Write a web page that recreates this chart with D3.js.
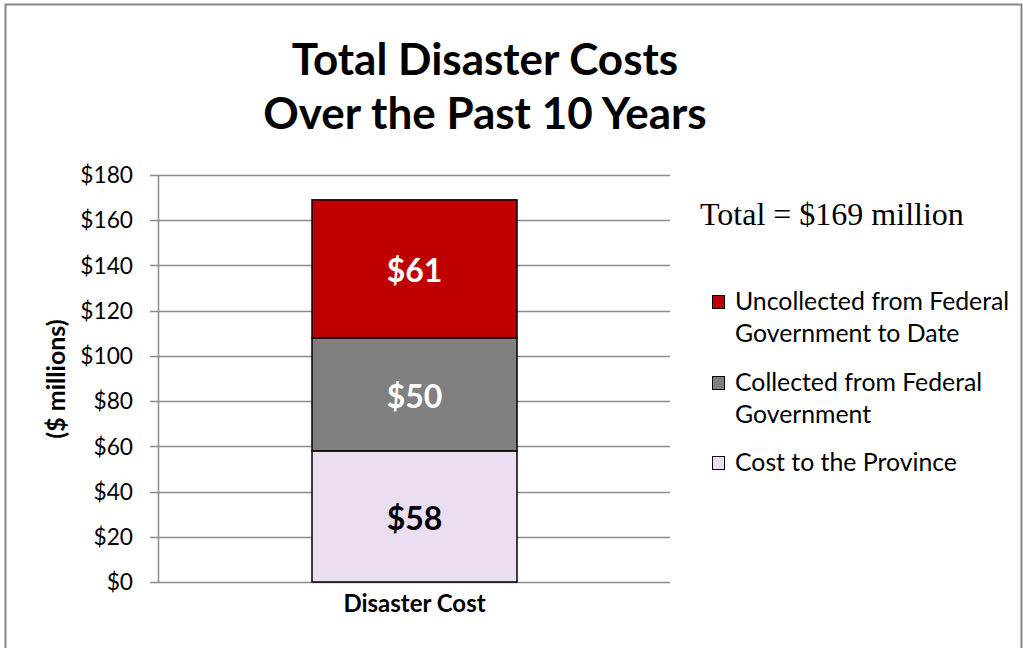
<!DOCTYPE html>
<html>
<head>
<meta charset="utf-8">
<script src="https://cdn.jsdelivr.net/npm/d3@7"></script>
<style>
  html, body { margin: 0; padding: 0; background: #fff; }
  svg { display: block; }
  text { font-family: Lato, "Open Sans", sans-serif; }
</style>
</head>
<body>
<div id="chart"></div>
<script>
// Stacked cost components, bottom to top
const category = "Disaster Cost";
const seriesNames = [
  "Cost to the Province",
  "Collected from Federal Government",
  "Uncollected from Federal Government to Date"
];
const seriesValues = [58, 50, 61];
const seriesColors = ["#ebdef0", "#808080", "#c00000"];
const labelColors = ["#000000", "#ffffff", "#ffffff"];
const yTicks = [0, 20, 40, 60, 80, 100, 120, 140, 160, 180];
const legendLines = [
  ["Uncollected from Federal", "Government to Date"],
  ["Collected from Federal", "Government"],
  ["Cost to the Province"]
];
const totalLabel = "Total = $169 million";

const W = 1023, H = 648;
const svg = d3.select("#chart").append("svg").attr("width", W).attr("height", H);

// outer frame
svg.append("rect")
  .attr("x", 5.5).attr("y", 4.5).attr("width", 1016).attr("height", 660)
  .attr("fill", "#fff").attr("stroke", "#868686").attr("stroke-width", 2);

// plot area
const plot = { left: 158, right: 670, top: 175, bottom: 582 };

const y = d3.scaleLinear().domain([0, 180]).range([plot.bottom, plot.top]);

// gridlines
svg.append("g")
  .selectAll("line").data(yTicks).join("line")
  .attr("x1", plot.left - 8).attr("x2", plot.right)
  .attr("y1", d => Math.round(y(d)) + 0.5).attr("y2", d => Math.round(y(d)) + 0.5)
  .attr("stroke", "#8c8c8c").attr("stroke-width", 1.5);

// y axis
const yAxis = svg.append("g")
  .attr("transform", `translate(${plot.left},0)`)
  .call(d3.axisLeft(y).tickValues(yTicks).tickFormat(d => "$" + d).tickSize(0).tickPadding(25));
yAxis.select(".domain").attr("stroke", "#8c8c8c").attr("stroke-width", 1.5);
yAxis.selectAll("text").attr("font-size", 22.7).attr("fill", "#000").attr("dy", "0.34em");

// stacked bar
const stack = [];
let acc = 0;
seriesValues.forEach((v, i) => { stack.push({ v, y0: acc, y1: acc + v, i }); acc += v; });

const bx = 312, bw = 205;
const bars = svg.append("g");
bars.selectAll("rect").data(stack).join("rect")
  .attr("x", bx).attr("width", bw)
  .attr("y", d => y(d.y1)).attr("height", d => y(d.y0) - y(d.y1))
  .attr("fill", d => seriesColors[d.i])
  .attr("stroke", "#000").attr("stroke-width", 1.5);

bars.selectAll("text").data(stack).join("text")
  .attr("x", bx + bw / 2)
  .attr("y", d => (y(d.y0) + y(d.y1)) / 2)
  .attr("dy", "0.42em")
  .attr("text-anchor", "middle")
  .attr("font-size", 32).attr("font-weight", "bold")
  .attr("fill", d => labelColors[d.i])
  .text(d => "$" + d.v);

// x category label
svg.append("text")
  .attr("x", bx + bw / 2).attr("y", 612)
  .attr("text-anchor", "middle")
  .attr("font-size", 24).attr("font-weight", "bold")
  .text(category);

// y axis title
svg.append("text")
  .attr("transform", "translate(65,379) rotate(-90)")
  .attr("text-anchor", "middle")
  .attr("font-size", 25).attr("font-weight", "bold")
  .text("($ millions)");

// title
const title = svg.append("text").attr("text-anchor", "middle").attr("font-size", 44).attr("font-weight", "bold");
title.append("tspan").attr("x", 485).attr("y", 75).text("Total Disaster Costs");
title.append("tspan").attr("x", 485).attr("y", 129).text("Over the Past 10 Years");

// total annotation
svg.append("text")
  .attr("x", 700).attr("y", 225)
  .style("font-family", "'Liberation Serif', 'Times New Roman', serif")
  .attr("font-size", 32)
  .text(totalLabel);

// legend (top entry = top segment)
const legendTop = [310, 391, 471];
const legendColorIdx = [2, 1, 0];
const lg = svg.append("g");
legendLines.forEach((lines, k) => {
  const ly = legendTop[k];
  lg.append("rect")
    .attr("x", 712.5).attr("y", ly - 14.5).attr("width", 12).attr("height", 13)
    .attr("fill", seriesColors[legendColorIdx[k]])
    .attr("stroke", "#000").attr("stroke-width", 1);
  lines.forEach((t, j) => {
    lg.append("text")
      .attr("x", 735).attr("y", ly + j * 32)
      .attr("font-size", 24.8)
      .text(t);
  });
});
</script>
</body>
</html>
